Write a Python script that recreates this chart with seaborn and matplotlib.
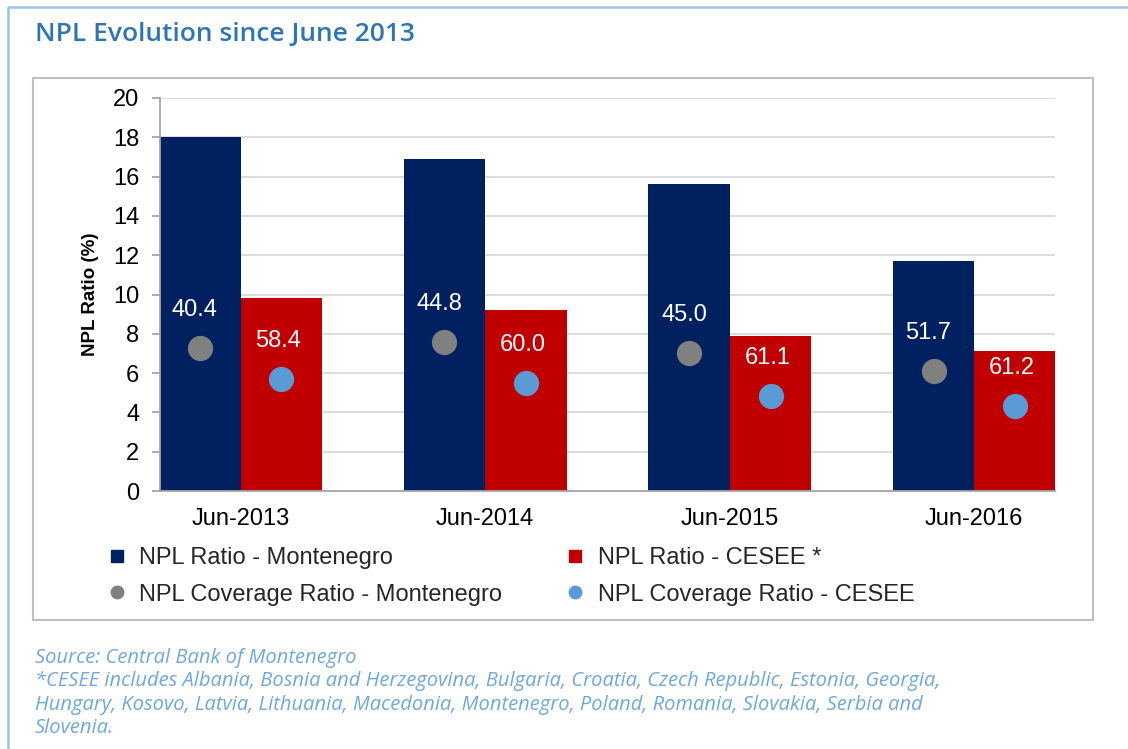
import matplotlib
matplotlib.use("Agg")
import matplotlib.pyplot as plt
import seaborn as sns
import pandas as pd
from matplotlib.lines import Line2D
from matplotlib.patches import Rectangle

# ---------------- data ----------------
periods = ["Jun-2013", "Jun-2014", "Jun-2015", "Jun-2016"]
npl_mne = [18.0, 16.9, 15.6, 11.7]
npl_cesee = [9.8, 9.2, 7.9, 7.1]
cov_mne_labels = [40.4, 44.8, 45.0, 51.7]
cov_cesee_labels = [58.4, 60.0, 61.1, 61.2]
cov_mne_pos = [7.3, 7.6, 7.0, 6.1]
cov_cesee_pos = [5.7, 5.5, 4.85, 4.35]
bar_series = ["NPL Ratio - Montenegro", "NPL Ratio - CESEE *"]
cov_series = ["NPL Coverage Ratio - Montenegro", "NPL Coverage Ratio - CESEE"]
y_ticks = [0, 2, 4, 6, 8, 10, 12, 14, 16, 18, 20]

title = "NPL Evolution since June 2013"
foot_lines = [
    "Source: Central Bank of Montenegro",
    "*CESEE includes Albania, Bosnia and Herzegovina, Bulgaria, Croatia, Czech Republic, Estonia, Georgia,",
    "Hungary, Kosovo, Latvia, Lithuania, Macedonia, Montenegro, Poland, Romania, Slovakia, Serbia and",
    "Slovenia.",
]

NAVY = "#002060"
RED = "#C00000"
GRAY = "#808080"
LBLUE = "#5B9BD5"

sns.set_theme(style="white")
plt.rcParams["font.family"] = ["Liberation Sans", "DejaVu Sans"]

W, H = 1128, 749
FS = 17
fig = plt.figure(figsize=(W / 100, H / 100), dpi=100)
ax = fig.add_axes([160 / W, 1 - 491 / H, (1055 - 160) / W, (491 - 98) / H])

df = pd.DataFrame({
    "period": periods * 2,
    "value": npl_mne + npl_cesee,
    "series": [bar_series[0]] * 4 + [bar_series[1]] * 4,
})
sns.barplot(data=df, x="period", y="value", hue="series", hue_order=bar_series,
            palette=[NAVY, RED], width=0.667, saturation=1, gap=0,
            legend=False, ax=ax, linewidth=0)

bars = ax.patches
xs_mne = [p.get_x() + p.get_width() / 2 for p in bars[0:4]]
xs_ces = [p.get_x() + p.get_width() / 2 for p in bars[4:8]]

sns.scatterplot(x=xs_mne, y=cov_mne_pos, color=GRAY, s=330, linewidth=0, ax=ax, zorder=5)
sns.scatterplot(x=xs_ces, y=cov_cesee_pos, color=LBLUE, s=330, linewidth=0, ax=ax, zorder=5)

for x, y, v in zip(xs_mne, cov_mne_pos, cov_mne_labels):
    ax.annotate(f"{v:.1f}", (x, y), xytext=(-5, 38), textcoords="offset pixels",
                ha="center", va="center", color="white", fontsize=FS, zorder=6)
for x, y, v in zip(xs_ces, cov_cesee_pos, cov_cesee_labels):
    ax.annotate(f"{v:.1f}", (x, y), xytext=(-3, 38), textcoords="offset pixels",
                ha="center", va="center", color="white", fontsize=FS, zorder=6)

ax.set_xlim(-0.33, 3.33)
ax.set_ylim(0, 20)
ax.set_yticks(y_ticks)
ax.yaxis.grid(True, color="#D9D9D9", linewidth=1.3)
ax.set_axisbelow(True)
for s in ["top", "right"]:
    ax.spines[s].set_visible(False)
for s in ["left", "bottom"]:
    ax.spines[s].set_color("#A6A6A6")
    ax.spines[s].set_linewidth(1.3)
ax.tick_params(axis="y", length=6, color="#A6A6A6", width=1.3, labelsize=FS, pad=9,
               left=True, labelcolor="black")
ax.tick_params(axis="x", length=0, labelsize=FS, pad=12, labelcolor="black")
ax.set_xlabel("")
ax.set_ylabel("NPL Ratio (%)", fontsize=13.5, fontweight="bold", labelpad=10, color="black")

# legend
handles = [
    Line2D([], [], marker="s", linestyle="", color=NAVY, markersize=8),
    Line2D([], [], marker="o", linestyle="", color=GRAY, markersize=9),
    Line2D([], [], marker="s", linestyle="", color=RED, markersize=8),
    Line2D([], [], marker="o", linestyle="", color=LBLUE, markersize=9),
]
labels = [bar_series[0], cov_series[0], bar_series[1], cov_series[1]]
fig.legend(handles, labels, ncol=2, loc="upper left",
           bbox_to_anchor=(105 / W, 1 - 547 / H), frameon=False, fontsize=FS,
           handletextpad=0.45, columnspacing=2.6, labelspacing=0.62,
           handlelength=1.0, borderaxespad=0, borderpad=0)

# frames
fig.add_artist(Rectangle((33 / W, 1 - 620 / H), (1093 - 33) / W, (620 - 78) / H,
                         transform=fig.transFigure, fill=False,
                         edgecolor="#BFBFBF", linewidth=1.5))
fig.add_artist(Line2D([8 / W, 8 / W, 1], [0, 1 - 7 / H, 1 - 7 / H],
                      transform=fig.transFigure, color="#9DC3E6", linewidth=1.8))

fig.text(35 / W, 1 - 34 / H, title, fontsize=19, fontweight="semibold", color="#2E75B6",
         family=["Open Sans", "DejaVu Sans"], ha="left", va="center")

for i, line in enumerate(foot_lines):
    fig.text(35 / W, 1 - (658 + i * 23.3) / H, line, fontsize=14.5, style="italic",
             color="#6FA8DC", family=["Open Sans", "DejaVu Sans"], ha="left", va="center")

fig.savefig("out.png", dpi=100)
